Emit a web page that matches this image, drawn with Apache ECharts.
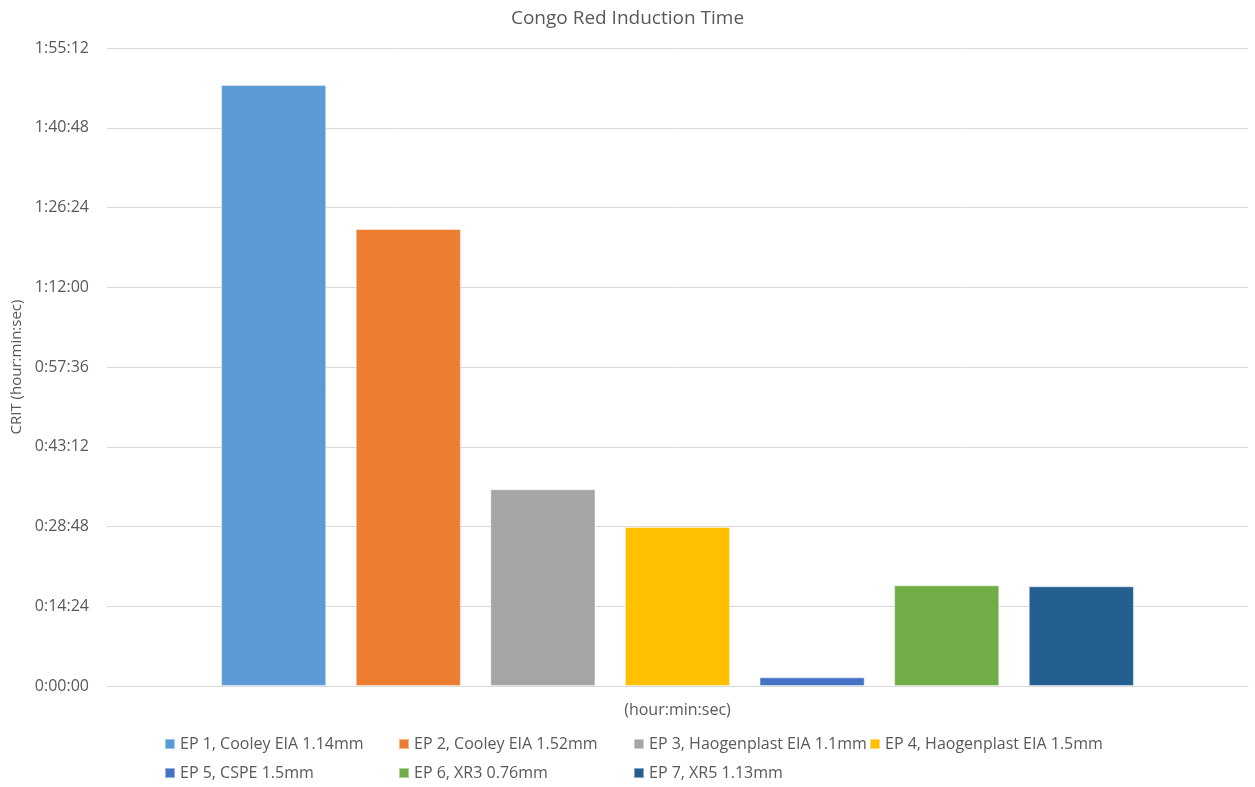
<!DOCTYPE html>
<html>
<head>
<meta charset="utf-8">
<script src="https://cdn.jsdelivr.net/npm/echarts@6/dist/echarts.min.js"></script>
<style>
  html, body { margin: 0; padding: 0; background: #fff; }
  #chart { width: 1255px; height: 787px; }
</style>
</head>
<body>
<div id="chart"></div>
<script>
// Congo Red induction time per test sample, in seconds
const categories = ['(hour:min:sec)'];
const seriesNames = [
  'EP 1, Cooley EIA 1.14mm',
  'EP 2, Cooley EIA 1.52mm',
  'EP 3, Haogenplast EIA 1.1mm',
  'EP 4, Haogenplast EIA 1.5mm',
  'EP 5, CSPE 1.5mm',
  'EP 6, XR3 0.76mm',
  'EP 7, XR5 1.13mm'
];
const inductionSeconds = [6510, 4951, 2131, 1723, 94, 1091, 1080];
const yTickStep = 864;   // 0:14:24
const yMax = 6912;       // 1:55:12

const palette = ['#5B9BD5', '#ED7D31', '#A5A5A5', '#FFC000', '#4472C4', '#70AD47', '#255E91'];

// legend entries laid out in a two-row grid below the plot
const legendSlots = [
  [164, 736], [398, 736], [633, 736], [869, 736],
  [164, 765], [398, 765], [633, 765]
];

function hms(sec) {
  const h = Math.floor(sec / 3600);
  const m = Math.floor((sec % 3600) / 60);
  const s = Math.round(sec % 60);
  return h + ':' + String(m).padStart(2, '0') + ':' + String(s).padStart(2, '0');
}

const font = '"Open Sans", "Liberation Sans", sans-serif';
const textGrey = '#595959';

const chart = echarts.init(document.getElementById('chart'), null, { renderer: 'canvas' });
chart.setOption({
  animation: false,
  color: palette,
  title: {
    text: 'Congo Red Induction Time',
    left: 'center',
    top: 4,
    textStyle: { fontFamily: font, fontSize: 19, fontWeight: 'normal', color: textGrey }
  },
  legend: seriesNames.map((name, i) => ({
    data: [name],
    left: legendSlots[i][0],
    top: legendSlots[i][1],
    padding: 0,
    itemWidth: 10,
    itemHeight: 10,
    itemGap: 0,
    icon: 'rect',
    textStyle: { fontFamily: font, fontSize: 16, color: textGrey }
  })),
  grid: { left: 107, right: 7, top: 48, bottom: 101, containLabel: false },
  xAxis: {
    type: 'category',
    data: categories,
    axisLine: { lineStyle: { color: '#D9D9D9' } },
    axisTick: { show: false },
    axisLabel: { fontFamily: font, fontSize: 16, color: textGrey, margin: 16 }
  },
  yAxis: {
    type: 'value',
    min: 0,
    max: yMax,
    interval: yTickStep,
    name: 'CRIT (hour:min:sec)',
    nameLocation: 'middle',
    nameGap: 76,
    nameRotate: 90,
    nameTextStyle: { fontFamily: font, fontSize: 15, color: textGrey },
    axisLine: { show: false },
    axisTick: { show: false },
    splitLine: { lineStyle: { color: '#D9D9D9', width: 1 } },
    axisLabel: { fontFamily: font, fontSize: 16, color: textGrey, margin: 18, formatter: hms }
  },
  series: seriesNames.map((name, i) => ({
    name: name,
    type: 'bar',
    barGap: '28%',
    barCategoryGap: '20%',
    itemStyle: { borderColor: 'rgba(255,255,255,0.45)', borderWidth: 1 },
    data: categories.map(() => inductionSeconds[i])
  }))
});
</script>
</body>
</html>
